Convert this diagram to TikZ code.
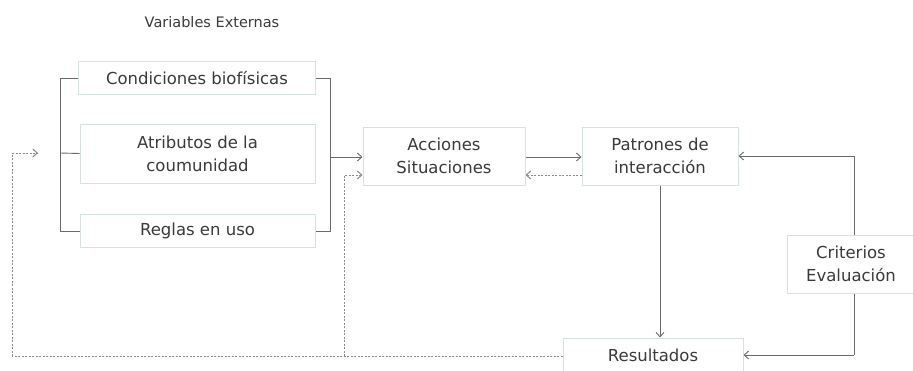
\documentclass[tikz,border=0pt]{standalone}
\usepackage{fontspec}
\setmainfont{DejaVu Sans}
\usetikzlibrary{arrows.meta}
\definecolor{boxline}{HTML}{D6E2E2}
\definecolor{conn}{HTML}{6A6A6A}
\definecolor{dotc}{HTML}{8A8A8A}
\definecolor{txt}{HTML}{3A3A3A}
\tikzset{
  box/.style={draw=boxline, line width=1pt, fill=white, inner sep=0pt, align=center, text=txt, font=\fontsize{16.5}{23}\selectfont},
  conline/.style={draw=conn, line width=0.9pt},
  arr/.style={conline, -{Straight Barb[length=4.5pt,width=8pt]}},
  dotline/.style={draw=dotc, line width=1pt, dash pattern=on 2pt off 1.5pt},
  dotarr/.style={dotline, -{Straight Barb[length=4.5pt,width=8pt]}},
}
\begin{document}
\begin{tikzpicture}[x=1pt,y=-1pt]
\useasboundingbox (0,0) rectangle (913,370);
\clip (0,0) rectangle (913,370);
% labels
\node[text=txt, font=\fontsize{14.5}{17}\selectfont] (ve) at (212,22) {Variables Externas};
% boxes
\node[box, minimum width=237pt, minimum height=33pt] (cb) at (197,78) {Condiciones biofísicas};
\node[box, minimum width=235pt, minimum height=59pt] (at) at (197.5,153.5) {Atributos de la\\coumunidad};
\node[box, minimum width=235pt, minimum height=33pt] (re) at (197.5,231) {Reglas en uso};
\node[box, minimum width=162pt, minimum height=58pt] (ac) at (444,156) {Acciones\\Situaciones};
\node[box, minimum width=156pt, minimum height=58pt] (pa) at (660,156) {Patrones de\\interacción};
\node[box, minimum width=128pt, minimum height=58pt] (cr) at (851,264) {Criterios\\Evaluación};
\node[box, minimum width=180pt, minimum height=40pt, text depth=0pt] (rs) at (653,358) {};
\node[text=txt, font=\fontsize{16.5}{23}\selectfont] (rst) at (653,355) {Resultados};
% coordinates
\coordinate (lt) at (60,78);
\coordinate (lm) at (60,153);
\coordinate (lb) at (60,231);
\coordinate (rt) at (330,78);
\coordinate (rm) at (330,157);
\coordinate (rb) at (330,231);
\coordinate (fbA) at (12,356);
\coordinate (fbB) at (344,356);
\coordinate (fbL) at (12,153);
\coordinate (fbLe) at (38,153);
\coordinate (fbM) at (344,175);
\coordinate (cv) at (854,156);
\coordinate (cvb) at (854,355);
% left bracket
\draw[conline] (cb.west) -- (lt) -- (lb) -- (re.west);
\draw[conline] (lm) -- (at.west);
% right bracket
\draw[conline] (cb.east) -- (rt) -- (rb) -- (re.east);
\draw[arr] (rm) -- (ac.west |- rm);
% main flow
\draw[arr] (ac.east |- 0,157) -- (pa.west |- 0,157);
\draw[dotarr] (pa.west |- 0,175) -- (ac.east |- 0,175);
\draw[arr] (pa.south) -- (rs.north -| pa.south);
% evaluation loop
\draw[conline] (cr.north -| cv) -- (cv);
\draw[arr] (cv) -- (pa.east);
\draw[conline] (cr.south -| cv) -- (cvb);
\draw[arr] (cvb) -- (rs.east |- cvb);
% feedback dotted
\draw[dotline] (rs.west |- fbA) -- (fbA);
\draw[dotarr] (fbA) -- (fbL) -- (fbLe);
\draw[dotarr] (fbB) -- (fbM) -- (ac.west |- fbM);
\end{tikzpicture}
\end{document}
